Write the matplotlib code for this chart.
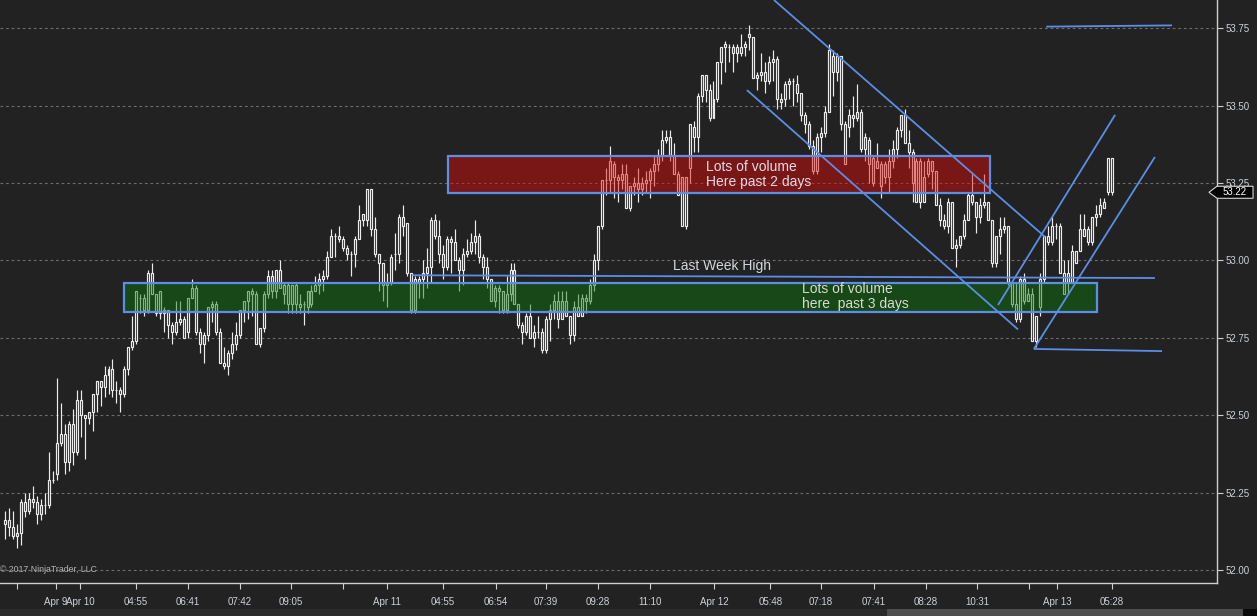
import matplotlib
matplotlib.use("Agg")
import matplotlib.pyplot as plt
import matplotlib.transforms as mtransforms
from matplotlib.patches import Rectangle, Polygon
from matplotlib.collections import LineCollection

plt.rcParams['font.family'] = ['Liberation Sans', 'DejaVu Sans']

# bar data (one bar per entry, left to right)
opens = [52.16, 52.16, 52.14, 52.12, 52.22, 52.22, 52.23, 52.23, 52.22, 52.21,
         52.21, 52.29, 52.29, 52.41, 52.44, 52.44, 52.47, 52.47, 52.55, 52.55,
         52.50, 52.51, 52.57, 52.61, 52.61, 52.63, 52.65, 52.65, 52.58, 52.58,
         52.65, 52.72, 52.74, 52.90, 52.88, 52.88, 52.96, 52.96, 52.89, 52.90,
         52.84, 52.84, 52.79, 52.80, 52.81, 52.81, 52.88, 52.91, 52.91, 52.77,
         52.76, 52.85, 52.86, 52.86, 52.77, 52.67, 52.70, 52.73, 52.76, 52.84,
         52.87, 52.90, 52.90, 52.89, 52.78, 52.89, 52.95, 52.95, 52.97, 52.97,
         52.92, 52.92, 52.92, 52.92, 52.86, 52.86, 52.90, 52.90, 52.92, 52.94,
         52.95, 53.01, 53.08, 53.08, 53.08, 53.07, 53.04, 53.02, 53.07, 53.13,
         53.15, 53.23, 53.23, 53.10, 53.02, 52.99, 52.93, 53.01, 53.02, 53.14,
         53.14, 53.12, 52.96, 52.94, 52.94, 52.96, 52.98, 53.13, 53.13, 53.08,
         53.02, 53.07, 53.07, 53.06, 53.00, 53.02, 53.03, 53.06, 53.08, 53.08,
         53.01, 52.98, 52.94, 52.91, 52.91, 52.90, 52.89, 52.97, 52.97, 52.86,
         52.79, 52.82, 52.82, 52.77, 52.77, 52.77, 52.81, 52.84, 52.87, 52.87,
         52.87, 52.87, 52.82, 52.85, 52.85, 52.88, 52.88, 52.92, 53.00, 53.11,
         53.26, 53.26, 53.32, 53.31, 53.27, 53.28, 53.28, 53.24, 53.25, 53.25,
         53.25, 53.26, 53.29, 53.31, 53.34, 53.39, 53.40, 53.40, 53.34, 53.28,
         53.27, 53.27, 53.44, 53.43, 53.53, 53.60, 53.60, 53.55, 53.52, 53.64,
         53.69, 53.70, 53.69, 53.69, 53.69, 53.69, 53.70, 53.73, 53.72, 53.60,
         53.61, 53.61, 53.64, 53.65, 53.65, 53.52, 53.57, 53.58, 53.58, 53.57,
         53.54, 53.47, 53.44, 53.37, 53.40, 53.41, 53.48, 53.68, 53.66, 53.66,
         53.66, 53.44, 53.47, 53.47, 53.48, 53.48, 53.40, 53.39, 53.33, 53.32,
         53.31, 53.31, 53.32, 53.36, 53.42, 53.47, 53.47, 53.38, 53.35, 53.32,
         53.32, 53.27, 53.32, 53.32, 53.29, 53.18, 53.13, 53.19, 53.19, 53.05,
         53.08, 53.13, 53.21, 53.21, 53.19, 53.18, 53.19, 53.19, 53.13, 53.08,
         53.10, 53.11, 53.11, 52.93, 52.86, 52.94, 52.94, 52.89, 52.89, 52.82,
         52.94, 53.08, 53.08, 53.11, 53.11, 53.11, 52.96, 52.96, 53.03, 53.03,
         53.10, 53.10, 53.10, 53.14, 53.15, 53.18, 53.19, 53.33, 53.33]
highs = [52.19, 52.20, 52.19, 52.15, 52.23, 52.25, 52.25, 52.27, 52.24, 52.23,
         52.25, 52.38, 52.32, 52.62, 52.54, 52.47, 52.48, 52.52, 52.58, 52.58,
         52.50, 52.51, 52.57, 52.61, 52.61, 52.66, 52.66, 52.68, 52.61, 52.59,
         52.66, 52.72, 52.82, 52.90, 52.89, 52.89, 52.97, 52.99, 52.89, 52.90,
         52.85, 52.84, 52.80, 52.87, 52.87, 52.82, 52.88, 52.94, 52.92, 52.78,
         52.77, 52.85, 52.87, 52.87, 52.78, 52.72, 52.71, 52.77, 52.80, 52.84,
         52.87, 52.90, 52.91, 52.90, 52.78, 52.90, 52.97, 52.97, 52.97, 53.00,
         52.93, 52.93, 52.92, 52.93, 52.89, 52.87, 52.90, 52.92, 52.95, 52.96,
         52.97, 53.03, 53.10, 53.09, 53.11, 53.08, 53.05, 53.03, 53.08, 53.18,
         53.15, 53.23, 53.23, 53.14, 53.02, 52.99, 52.96, 53.02, 53.09, 53.15,
         53.18, 53.12, 52.96, 52.95, 52.95, 53.00, 53.04, 53.14, 53.15, 53.13,
         53.05, 53.08, 53.08, 53.10, 53.01, 53.04, 53.07, 53.09, 53.13, 53.09,
         53.02, 53.01, 52.94, 52.92, 52.92, 52.90, 52.95, 52.99, 52.99, 52.86,
         52.80, 52.83, 52.86, 52.79, 52.82, 52.78, 52.82, 52.86, 52.89, 52.90,
         52.90, 52.90, 52.82, 52.87, 52.89, 52.89, 52.89, 52.94, 53.02, 53.11,
         53.26, 53.30, 53.37, 53.32, 53.28, 53.31, 53.31, 53.24, 53.27, 53.30,
         53.27, 53.29, 53.30, 53.34, 53.36, 53.42, 53.42, 53.42, 53.38, 53.29,
         53.27, 53.27, 53.44, 53.45, 53.54, 53.60, 53.60, 53.57, 53.58, 53.64,
         53.69, 53.71, 53.70, 53.70, 53.70, 53.73, 53.71, 53.76, 53.72, 53.61,
         53.67, 53.64, 53.66, 53.68, 53.66, 53.54, 53.58, 53.59, 53.59, 53.60,
         53.54, 53.48, 53.45, 53.39, 53.41, 53.43, 53.50, 53.70, 53.68, 53.67,
         53.66, 53.45, 53.49, 53.53, 53.57, 53.49, 53.41, 53.40, 53.34, 53.38,
         53.32, 53.32, 53.36, 53.39, 53.43, 53.47, 53.49, 53.42, 53.36, 53.33,
         53.33, 53.32, 53.33, 53.32, 53.29, 53.20, 53.15, 53.20, 53.19, 53.07,
         53.08, 53.15, 53.22, 53.28, 53.19, 53.20, 53.28, 53.19, 53.13, 53.08,
         53.14, 53.14, 53.11, 52.93, 52.93, 52.95, 52.96, 52.91, 52.91, 52.82,
         52.96, 53.08, 53.11, 53.14, 53.12, 53.12, 53.00, 53.00, 53.05, 53.03,
         53.15, 53.15, 53.11, 53.14, 53.18, 53.20, 53.20, 53.33, 53.33]
lows = [52.10, 52.11, 52.10, 52.07, 52.08, 52.17, 52.18, 52.20, 52.15, 52.16,
        52.18, 52.20, 52.28, 52.29, 52.40, 52.31, 52.32, 52.34, 52.37, 52.43,
        52.36, 52.47, 52.45, 52.51, 52.53, 52.56, 52.57, 52.56, 52.54, 52.51,
        52.56, 52.63, 52.71, 52.73, 52.83, 52.82, 52.83, 52.89, 52.82, 52.81,
        52.77, 52.75, 52.73, 52.76, 52.79, 52.75, 52.75, 52.88, 52.76, 52.70,
        52.67, 52.74, 52.80, 52.76, 52.67, 52.65, 52.63, 52.68, 52.71, 52.75,
        52.80, 52.81, 52.82, 52.73, 52.72, 52.77, 52.88, 52.88, 52.88, 52.91,
        52.86, 52.83, 52.83, 52.83, 52.83, 52.79, 52.83, 52.85, 52.90, 52.89,
        52.90, 52.94, 53.01, 53.01, 53.06, 53.03, 53.00, 52.95, 52.98, 53.07,
        53.11, 53.11, 53.08, 53.01, 52.90, 52.87, 52.85, 52.92, 52.97, 52.99,
        53.08, 52.95, 52.83, 52.83, 52.88, 52.88, 52.91, 52.93, 53.07, 52.99,
        52.94, 52.97, 52.96, 53.00, 52.90, 52.92, 53.01, 53.02, 53.02, 52.99,
        52.94, 52.91, 52.87, 52.85, 52.83, 52.83, 52.83, 52.87, 52.86, 52.78,
        52.73, 52.76, 52.75, 52.72, 52.75, 52.70, 52.70, 52.74, 52.81, 52.78,
        52.81, 52.82, 52.73, 52.74, 52.82, 52.82, 52.83, 52.86, 52.90, 52.97,
        53.10, 53.21, 53.22, 53.20, 53.19, 53.23, 53.17, 53.16, 53.21, 53.19,
        53.21, 53.22, 53.20, 53.24, 53.29, 53.32, 53.38, 53.32, 53.28, 53.21,
        53.11, 53.10, 53.25, 53.35, 53.35, 53.51, 53.51, 53.45, 53.46, 53.51,
        53.57, 53.61, 53.64, 53.61, 53.64, 53.66, 53.66, 53.68, 53.59, 53.55,
        53.58, 53.54, 53.57, 53.58, 53.49, 53.49, 53.50, 53.52, 53.50, 53.51,
        53.45, 53.41, 53.36, 53.28, 53.28, 53.35, 53.40, 53.48, 53.53, 53.58,
        53.42, 53.31, 53.40, 53.43, 53.45, 53.35, 53.32, 53.25, 53.24, 53.30,
        53.20, 53.25, 53.22, 53.30, 53.33, 53.40, 53.38, 53.30, 53.19, 53.19,
        53.17, 53.19, 53.27, 53.23, 53.18, 53.11, 53.10, 53.09, 53.04, 52.98,
        53.04, 53.07, 53.13, 53.18, 53.09, 53.12, 53.17, 53.13, 52.98, 52.98,
        53.02, 53.09, 52.92, 52.85, 52.80, 52.80, 52.86, 52.87, 52.74, 52.72,
        52.82, 52.93, 53.05, 53.05, 53.07, 52.96, 52.89, 52.89, 52.93, 52.99,
        53.03, 53.08, 53.05, 53.05, 53.11, 53.14, 53.17, 53.21, 53.21]
closes = [52.15, 52.14, 52.11, 52.11, 52.12, 52.19, 52.19, 52.22, 52.18, 52.18,
          52.21, 52.21, 52.29, 52.31, 52.41, 52.35, 52.35, 52.38, 52.38, 52.50,
          52.49, 52.49, 52.51, 52.57, 52.59, 52.59, 52.63, 52.58, 52.58, 52.57,
          52.57, 52.65, 52.72, 52.74, 52.88, 52.84, 52.84, 52.89, 52.83, 52.83,
          52.83, 52.79, 52.77, 52.77, 52.80, 52.75, 52.77, 52.88, 52.77, 52.73,
          52.73, 52.76, 52.85, 52.77, 52.67, 52.66, 52.66, 52.70, 52.73, 52.76,
          52.84, 52.87, 52.89, 52.73, 52.73, 52.78, 52.89, 52.90, 52.90, 52.91,
          52.89, 52.86, 52.86, 52.86, 52.85, 52.86, 52.85, 52.86, 52.90, 52.92,
          52.94, 52.95, 53.01, 53.08, 53.07, 53.04, 53.02, 53.02, 53.02, 53.07,
          53.13, 53.13, 53.10, 53.02, 52.99, 52.92, 52.92, 52.93, 53.02, 53.02,
          53.11, 52.96, 52.84, 52.84, 52.93, 52.94, 52.96, 52.98, 53.08, 53.02,
          52.98, 52.98, 53.06, 53.00, 52.97, 52.97, 53.02, 53.03, 53.06, 53.01,
          52.98, 52.94, 52.87, 52.87, 52.90, 52.84, 52.84, 52.89, 52.86, 52.79,
          52.77, 52.77, 52.75, 52.75, 52.77, 52.71, 52.71, 52.81, 52.84, 52.81,
          52.81, 52.82, 52.76, 52.76, 52.82, 52.82, 52.87, 52.87, 52.92, 53.00,
          53.11, 53.26, 53.26, 53.27, 53.26, 53.26, 53.17, 53.17, 53.24, 53.23,
          53.23, 53.25, 53.26, 53.29, 53.31, 53.34, 53.39, 53.34, 53.28, 53.21,
          53.11, 53.11, 53.30, 53.40, 53.40, 53.53, 53.55, 53.46, 53.46, 53.52,
          53.64, 53.69, 53.69, 53.67, 53.67, 53.67, 53.69, 53.72, 53.59, 53.59,
          53.60, 53.58, 53.58, 53.64, 53.52, 53.51, 53.52, 53.57, 53.58, 53.54,
          53.47, 53.44, 53.37, 53.29, 53.29, 53.40, 53.41, 53.48, 53.61, 53.61,
          53.44, 53.31, 53.43, 53.46, 53.46, 53.36, 53.36, 53.31, 53.25, 53.30,
          53.24, 53.27, 53.27, 53.32, 53.36, 53.42, 53.38, 53.35, 53.25, 53.19,
          53.19, 53.19, 53.28, 53.29, 53.18, 53.13, 53.11, 53.11, 53.04, 53.04,
          53.05, 53.08, 53.13, 53.19, 53.14, 53.14, 53.18, 53.13, 52.99, 52.99,
          53.08, 53.10, 52.93, 52.86, 52.81, 52.81, 52.87, 52.87, 52.74, 52.74,
          52.85, 52.94, 53.06, 53.06, 53.11, 52.96, 52.89, 52.93, 52.93, 52.99,
          53.03, 53.08, 53.06, 53.06, 53.14, 53.15, 53.17, 53.22, 53.22]

price_ticks = [52.00, 52.25, 52.50, 52.75, 53.00, 53.25, 53.50, 53.75]
time_tick_bars = [2.9, 12.8, 18.8, 32.9, 46.0, 59.0, 71.9, 84.9, 96.0, 110.0,
                  123.4, 135.9, 148.9, 162.0, 178.1, 192.3, 205.0, 218.2,
                  231.3, 244.2, 257.3, 264.4, 278.1]
time_tick_labels = ["", "Apr 9", "Apr 10", "04:55", "06:41", "07:42", "09:05", "",
                    "Apr 11", "04:55", "06:54", "07:39", "09:28", "11:10",
                    "Apr 12", "05:48", "07:18", "07:41", "08:28", "10:31", "",
                    "Apr 13", "05:28"]

# drawn objects (bar index, price)
red_zone = (111.2, 247.5, 53.219, 53.338)
green_zone = (30.0, 274.4, 52.834, 52.926)
trend_lines = [
    ((261.6, 53.755), (293.2, 53.759)),
    ((102.3, 52.952), (288.9, 52.943)),
    ((193.2, 53.841), (261.3, 53.076)),
    ((186.4, 53.550), (254.5, 52.777)),
    ((249.5, 52.856), (278.9, 53.470)),
    ((258.5, 52.714), (288.9, 53.334)),
    ((258.5, 52.714), (290.7, 52.707)),
]

BG = '#222222'
BLUE = '#5b8ee6'
FG = '#ececec'

W, H = 1257, 616
fig = plt.figure(figsize=(W / 100, H / 100), dpi=100, facecolor=BG)
ax = fig.add_axes([0, 33 / H, 1217 / W, 583 / H], facecolor=BG)
ax.set_xlim(-1.26, 304.5)
ax.set_ylim(51.958, 53.841)

for p in price_ticks:
    ax.axhline(p, color='#6c6c6c', lw=0.8, dashes=(2.5, 2.5), zorder=0)

n = len(closes)
idx = list(range(n))
wicks = [[(i, lows[i]), (i, highs[i])] for i in idx]
ax.add_collection(LineCollection(wicks, colors=FG, linewidths=0.85, zorder=2))
tops = [max(o, c) for o, c in zip(opens, closes)]
bots = [min(o, c) for o, c in zip(opens, closes)]
ax.bar(idx, [t - b for t, b in zip(tops, bots)], bottom=bots, width=0.5,
       facecolor=BG, edgecolor=FG, linewidth=0.85, zorder=3)

# volume zones, translucent over the bars
for (x0, x1, y0, y1), fc in [(red_zone, (0.88, 0.03, 0.03, 0.46)),
                             (green_zone, (0.05, 0.46, 0.05, 0.46))]:
    ax.add_patch(Rectangle((x0, y0), x1 - x0, y1 - y0, facecolor=fc,
                           edgecolor='none', zorder=4))
    ax.add_patch(Rectangle((x0, y0), x1 - x0, y1 - y0, facecolor='none',
                           edgecolor=BLUE, linewidth=1.6, zorder=5))

for (xa, ya), (xb, yb) in trend_lines:
    ax.plot([xa, xb], [ya, yb], color=BLUE, lw=1.3, zorder=6,
            solid_capstyle='butt')

ax.text(176.1, 53.277, "Lots of volume\nHere past 2 days", color='#e2dae8',
        fontsize=10, va='center', ha='left', linespacing=1.1, zorder=7)
ax.text(167.8, 52.982, "Last Week High", color='#d4d8de', fontsize=10,
        va='center', ha='left', zorder=7)
ax.text(200.3, 52.883, "Lots of volume\nhere  past 3 days", color='#d8dcd0',
        fontsize=10, va='center', ha='left', linespacing=1.1, zorder=7)

blend = mtransforms.blended_transform_factory(ax.transAxes, ax.transData)
ax.text(0.0, 52.0, "\u00a9 2017 NinjaTrader, LLC", transform=blend,
        color='#b4b4b4', fontsize=6.3, va='center', ha='left', zorder=7)

# axes styling
for s in ['top', 'left']:
    ax.spines[s].set_visible(False)
for s in ['right', 'bottom']:
    ax.spines[s].set_color('#cfcfcf')
    ax.spines[s].set_linewidth(1.0)
ax.yaxis.tick_right()
ax.set_yticks(price_ticks)
ax.set_yticklabels(["%.2f" % p for p in price_ticks])
ax.set_xticks(time_tick_bars)
ax.set_xticklabels(time_tick_labels)
ax.tick_params(axis='y', colors='#cfcfcf', labelcolor='#ccd1d8', length=4,
               width=0.8, pad=2, labelsize=7)
ax.tick_params(axis='x', colors='#cfcfcf', labelcolor='#ccd1d8', length=4,
               width=0.8, pad=6, labelsize=7)

# last price marker
last = closes[-1]
hh = 0.0194
ax.add_patch(Polygon([(0.9934, last), (1.0, last + hh), (1.0296, last + hh),
                      (1.0296, last - hh), (1.0, last - hh)], closed=True,
                     transform=blend, facecolor='black', edgecolor='#d8d8d8',
                     linewidth=0.8, clip_on=False, zorder=8))
ax.text(1.0148, last, "%.2f" % last, transform=blend, color='white',
        fontsize=7, ha='center', va='center', zorder=9, clip_on=False)

# scrollbar strip at the bottom
fig.patches.append(Rectangle((0, 0), 887 / W, 7 / H, transform=fig.transFigure,
                             facecolor='#2b2b2b', edgecolor='none'))
fig.patches.append(Rectangle((887 / W, 0), 356 / W, 7 / H,
                             transform=fig.transFigure, facecolor='#4e4e4e',
                             edgecolor='none'))
fig.patches.append(Rectangle((1243 / W, 0), 14 / W, 7 / H,
                             transform=fig.transFigure, facecolor='#0a0a0a',
                             edgecolor='none'))

fig.savefig("out.png", dpi=100, facecolor=BG)
